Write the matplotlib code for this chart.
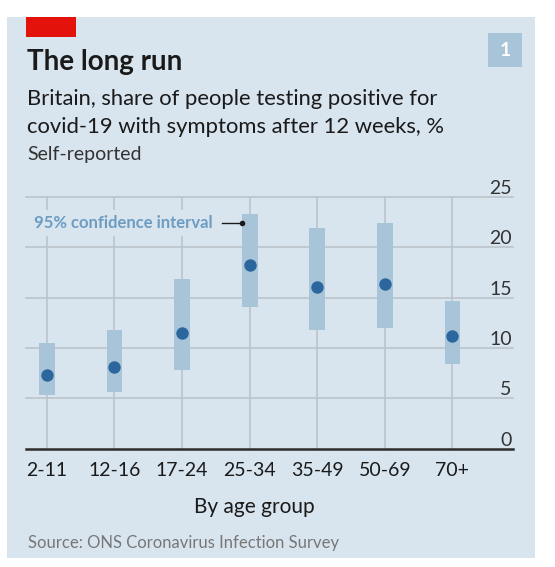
import matplotlib
matplotlib.use('Agg')
import matplotlib.pyplot as plt
from matplotlib import font_manager
from matplotlib.patches import Rectangle

# data
groups = ['2-11', '12-16', '17-24', '25-34', '35-49', '50-69', '70+']
share = [7.35, 8.15, 11.45, 18.2, 16.1, 16.4, 11.2]
ci_low = [5.3, 5.65, 7.8, 14.1, 11.8, 11.95, 8.4]
ci_high = [10.5, 11.8, 16.8, 23.3, 21.9, 22.4, 14.7]
yticks = [0, 5, 10, 15, 20, 25]

names = {f.name for f in font_manager.fontManager.ttflist}
fam = 'Liberation Sans Narrow' if 'Liberation Sans Narrow' in names else 'Lato'
plt.rcParams['font.family'] = [fam, 'DejaVu Sans']

bg = '#d9e5ee'
bar_c = '#a8c4d9'
dot_c = '#2b669c'
grid_c = '#bcc4ca'
txt = '#1a1a1a'

W, H = 555, 567
def fx(x): return x / W
def fy(y): return 1 - y / H

fig = plt.figure(figsize=(W / 100, H / 100), dpi=100)
fig.patch.set_facecolor('white')

# panel background, red tag, number box
fig.patches.append(Rectangle((fx(7), fy(558)), fx(535) - fx(7), (558 - 17) / H,
                             transform=fig.transFigure, fc=bg, ec='none', zorder=-2))
fig.patches.append(Rectangle((fx(26.4), fy(37)), fx(75.8) - fx(26.4), (37 - 17) / H,
                             transform=fig.transFigure, fc='#e3120b', ec='none', zorder=-1))
fig.patches.append(Rectangle((fx(488), fy(67)), fx(522) - fx(488), (67 - 33) / H,
                             transform=fig.transFigure, fc='#a8c4d9', ec='none', zorder=-1))
fig.text(fx(505), fy(50), '1', color='white', fontsize=14, fontweight='bold',
         ha='center', va='center')

# titles
fig.text(fx(27), fy(70), 'The long run', fontsize=20, fontweight='bold', color=txt, va='baseline')
fig.text(fx(27), fy(105), 'Britain, share of people testing positive for', fontsize=15.8,
         color=txt, va='baseline')
fig.text(fx(27), fy(133), 'covid-19 with symptoms after 12 weeks, %', fontsize=15.8,
         color=txt, va='baseline')
fig.text(fx(27), fy(160), 'Self-reported', fontsize=14, color='#333333', va='baseline')
fig.text(fx(28), fy(548), 'Source: ONS Coronavirus Infection Survey', fontsize=12,
         color='#777777', va='baseline')

ax = fig.add_axes([fx(26.4), fy(448.5), fx(513) - fx(26.4), (448.5 - 197) / H])
ax.set_zorder(2)
ax.set_facecolor('none')
x = list(range(len(groups)))
ax.set_xlim(-0.303, 6.895)
ax.set_ylim(0, 25)

# grid
for t in yticks[1:]:
    ax.axhline(t, color=grid_c, lw=1.2, zorder=1, clip_on=False)
ax.vlines(x, 0, 25, color=grid_c, lw=1.2, zorder=1)
ax.axhline(0, color='#2d2d2d', lw=1.8, zorder=5, clip_on=False)

# confidence bars and dots
heights = [h - l for h, l in zip(ci_high, ci_low)]
ax.bar(x, heights, bottom=ci_low, width=0.235, color=bar_c, zorder=3)
ax.scatter(x, share, s=80, color=dot_c, zorder=4, linewidths=0)

# annotation
ax.text(2.457, 22.4, '95% confidence interval', ha='right', va='center', fontsize=12,
        fontweight='bold', color='#6d9cc3', zorder=2,
        bbox=dict(boxstyle='square,pad=0.3', fc=bg, ec='none'))
ax.plot([2.587, 2.882], [22.4, 22.4], color='#1a1a1a', lw=1, zorder=3)
ax.plot([2.882], [22.4], marker='o', ms=3, color='#1a1a1a', zorder=3)

for s in ax.spines.values():
    s.set_visible(False)

ax.set_xticks(x)
ax.set_xticklabels(groups, fontsize=14, color=txt)
ax.tick_params(axis='x', length=0, pad=10)
ax.yaxis.tick_right()
ax.set_yticks(yticks)
ax.set_yticklabels([str(t) for t in yticks], fontsize=14, color='#333333', ha='right', va='bottom')
ax.tick_params(axis='y', length=0, pad=-1)
ax.text(3.07, -6.4, 'By age group', ha='center', va='baseline', fontsize=15, color=txt)

fig.savefig('out.png', dpi=100)
